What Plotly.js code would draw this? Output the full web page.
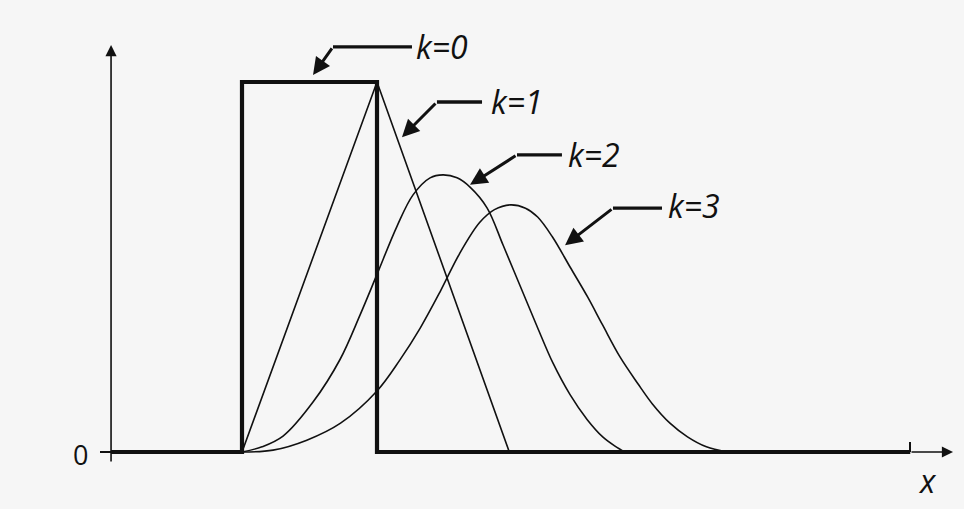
<!DOCTYPE html>
<html>
<head>
<meta charset="utf-8">
<script src="https://cdn.plot.ly/plotly-3.0.1.min.js"></script>
<style>
  html, body { margin: 0; padding: 0; background: #f6f6f6; }
  #chart { width: 964px; height: 509px; }
</style>
</head>
<body>
<div id="chart"></div>
<script>
// B-spline basis functions of order k = 0..3 on unit knots

// k = 0: box function, zero elsewhere along the axis
const k0X = [-0.97, 0, 0, 1, 1, 4.95];
const k0Y = [0, 0, 1, 1, 0, 0];

// k = 1: hat function
const k1X = [0, 1, 1.98];
const k1Y = [0, 1, 0];

// k = 2: quadratic
const k2X = [0, 0.148, 0.304, 0.526, 0.726, 0.874, 1.0, 1.148, 1.267, 1.393, 1.489,
             1.593, 1.689, 1.815, 1.933, 2.059, 2.185, 2.304, 2.430, 2.556, 2.674, 2.763, 2.837];
const k2Y = [0, 0.014, 0.043, 0.135, 0.25, 0.37, 0.48, 0.61, 0.695, 0.741, 0.749,
             0.741, 0.716, 0.66, 0.56, 0.45, 0.34, 0.24, 0.155, 0.088, 0.04, 0.016, 0];

// k = 3: cubic
const k3X = [0, 0.23, 0.48, 0.73, 1.0, 1.17, 1.32, 1.47, 1.61, 1.76, 1.87, 1.99, 2.10,
             2.19, 2.30, 2.43, 2.56, 2.67, 2.80, 2.93, 3.04, 3.17, 3.30, 3.44, 3.59];
const k3Y = [0, 0.005, 0.032, 0.078, 0.165, 0.249, 0.335, 0.435, 0.535, 0.620, 0.655, 0.668, 0.659,
             0.635, 0.581, 0.5, 0.419, 0.344, 0.257, 0.186, 0.13, 0.078, 0.041, 0.014, 0];

const curveLabels = ['k=0', 'k=1', 'k=2', 'k=3'];

const ink = '#111111';
const thin = { color: ink, width: 1.6 };

const traces = [
  { x: k1X, y: k1Y, mode: 'lines', line: thin, hoverinfo: 'skip' },
  { x: k2X, y: k2Y, mode: 'lines', line: Object.assign({ shape: 'spline', smoothing: 1 }, thin), hoverinfo: 'skip' },
  { x: k3X, y: k3Y, mode: 'lines', line: Object.assign({ shape: 'spline', smoothing: 1 }, thin), hoverinfo: 'skip' },
  { x: k0X, y: k0Y, mode: 'lines', line: { color: ink, width: 4.2 }, hoverinfo: 'skip' }
];

// label callouts: text anchor, elbow segment and arrow tip (axis units)
const callouts = [
  { tx: 1.281, ty: 1.097, hx0: 1.259, hx1: 0.674, hy: 1.095, tipX: 0.526, tipY: 1.019 },
  { tx: 1.837, ty: 0.946, hx0: 1.778, hx1: 1.444, hy: 0.946, tipX: 1.185, tipY: 0.851 },
  { tx: 2.407, ty: 0.803, hx0: 2.370, hx1: 2.037, hy: 0.803, tipX: 1.689, tipY: 0.722 },
  { tx: 3.148, ty: 0.665, hx0: 3.111, hx1: 2.748, hy: 0.659, tipX: 2.393, tipY: 0.559 }
];

const labelFont = { family: 'Open Sans, Liberation Sans, sans-serif', size: 32, color: ink, style: 'italic' };

const shapes = [];
const annotations = [];

callouts.forEach(function (c, i) {
  shapes.push({ type: 'line', xref: 'x', yref: 'y', x0: c.hx0, x1: c.hx1, y0: c.hy, y1: c.hy,
                line: { color: ink, width: 3.4 } });
  annotations.push({ xref: 'x', yref: 'y', axref: 'x', ayref: 'y', x: c.tipX, y: c.tipY,
                     ax: c.hx1, ay: c.hy, text: '', showarrow: true, arrowhead: 2,
                     arrowsize: 1.15, arrowwidth: 3, arrowcolor: ink, standoff: 0, startstandoff: 0 });
  annotations.push({ xref: 'x', yref: 'y', x: c.tx, y: c.ty, text: curveLabels[i], showarrow: false,
                     xanchor: 'left', yanchor: 'middle', font: labelFont, borderpad: 0 });
});

// hand-drawn axes
const yAxisX = -0.97;
annotations.push({ xref: 'x', yref: 'y', axref: 'x', ayref: 'y', x: yAxisX, y: 1.10, ax: yAxisX, ay: -0.03,
                   text: '', showarrow: true, arrowhead: 2, arrowsize: 1.4, arrowwidth: 1.6,
                   arrowcolor: ink, standoff: 0, startstandoff: 0 });
annotations.push({ xref: 'x', yref: 'y', axref: 'x', ayref: 'y', x: 5.267, y: 0, ax: 4.948, ay: 0,
                   text: '', showarrow: true, arrowhead: 2, arrowsize: 1.4, arrowwidth: 1.6,
                   arrowcolor: ink, standoff: 0, startstandoff: 0 });
shapes.push({ type: 'line', xref: 'x', yref: 'y', x0: 4.948, x1: 4.948, y0: 0, y1: 0.027,
              line: { color: ink, width: 2 } });
shapes.push({ type: 'line', xref: 'x', yref: 'y', x0: -1.052, x1: yAxisX, y0: 0, y1: 0,
              line: { color: ink, width: 2 } });

annotations.push({ xref: 'x', yref: 'y', x: -1.193, y: -0.008, text: '0', showarrow: false,
                   font: { family: 'Open Sans, sans-serif', size: 27, color: ink } });
annotations.push({ xref: 'x', yref: 'y', x: 5.081, y: -0.076, text: 'x', showarrow: false,
                   font: { family: 'Open Sans, sans-serif', size: 32, color: ink, style: 'italic' } });

const layout = {
  width: 964,
  height: 509,
  margin: { l: 0, r: 0, t: 0, b: 0 },
  paper_bgcolor: '#f6f6f6',
  plot_bgcolor: '#f6f6f6',
  showlegend: false,
  xaxis: { range: [-1.7926, 5.3481], visible: false, fixedrange: true },
  yaxis: { range: [-0.15405, 1.22162], visible: false, fixedrange: true },
  shapes: shapes,
  annotations: annotations
};

Plotly.newPlot('chart', traces, layout, { displayModeBar: false, staticPlot: true });
</script>
</body>
</html>
